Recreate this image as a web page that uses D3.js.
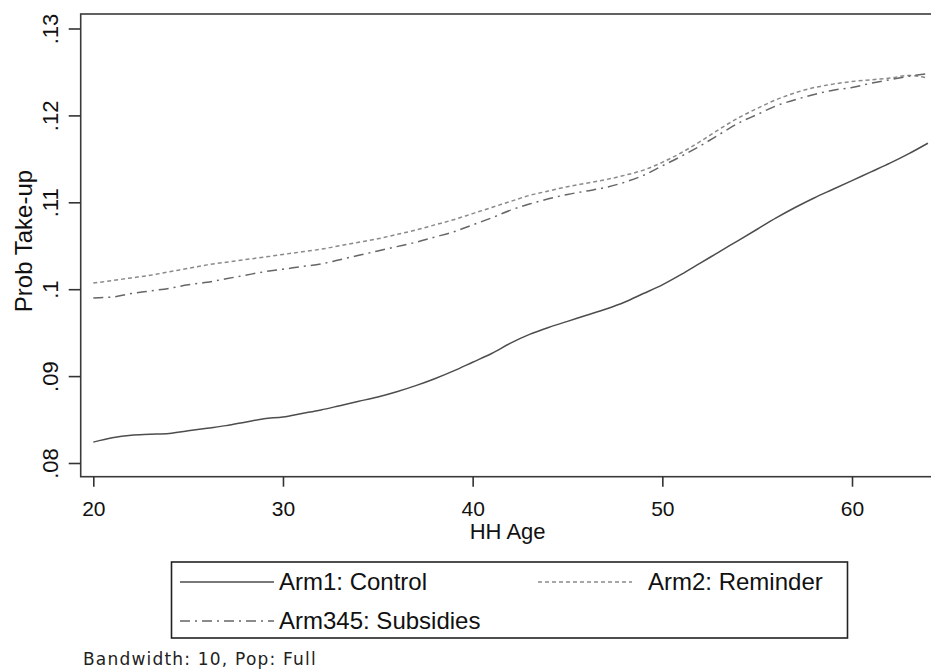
<!DOCTYPE html>
<html>
<head>
<meta charset="utf-8">
<script src="https://cdn.jsdelivr.net/npm/d3@7"></script>
<style>
  body { margin: 0; background: #fff; }
  svg { display: block; font-family: Arial, "Liberation Sans", sans-serif; }
</style>
</head>
<body>
<script>
// values
var ages = [20,21,22,23,24,25,26,27,28,29,30,31,32,33,34,35,36,37,38,39,40,41,42,
  43,44,45,46,47,48,49,50,51,52,53,54,55,56,57,58,59,60,61,62,63,64];

var control = [0.0824,0.0829,0.0832,0.0833,0.0834,0.0837,0.0840,0.0843,0.0847,0.0851,
  0.0853,0.0857,0.0861,0.0866,0.0871,0.0876,0.0882,0.0889,0.0897,0.0906,
  0.0916,0.0926,0.0938,0.0948,0.0956,0.0963,0.0970,0.0977,0.0985,0.0995,
  0.1005,0.1017,0.1030,0.1043,0.1056,0.1069,0.1082,0.1094,0.1105,0.1115,
  0.1125,0.1135,0.1145,0.1156,0.1168];

var reminder = [0.1007,0.1010,0.1013,0.1016,0.1020,0.1024,0.1028,0.1031,0.1034,0.1037,
  0.1040,0.1043,0.1046,0.1050,0.1054,0.1058,0.1063,0.1068,0.1074,0.1080,
  0.1087,0.1094,0.1101,0.1108,0.1113,0.1118,0.1122,0.1126,0.1131,0.1137,
  0.1146,0.1157,0.1170,0.1184,0.1197,0.1208,0.1218,0.1226,0.1232,0.1236,
  0.1239,0.1241,0.1243,0.1246,0.1243];

var subsidies = [0.0990,0.0991,0.0995,0.0998,0.1001,0.1005,0.1008,0.1012,0.1016,0.1020,
  0.1023,0.1026,0.1029,0.1034,0.1039,0.1044,0.1049,0.1054,0.1060,0.1066,
  0.1074,0.1082,0.1091,0.1098,0.1104,0.1109,0.1113,0.1117,0.1123,0.1131,
  0.1142,0.1153,0.1165,0.1178,0.1191,0.1201,0.1211,0.1218,0.1224,0.1229,
  0.1232,0.1237,0.1241,0.1245,0.1248];

var seriesNames = ["Arm1: Control", "Arm2: Reminder", "Arm345: Subsidies"];
var xTicks = [20, 30, 40, 50, 60];
var yTicks = [0.08, 0.09, 0.10, 0.11, 0.12, 0.13];
var yTickLabels = [".08", ".09", ".1", ".11", ".12", ".13"];

var width = 931;
var height = 669;
var plotLeft = 80.7;
var plotTop = 14;
var plotBottom = 476.7;

var svg = d3.select("body")
  .append("svg")
  .attr("width", width)
  .attr("height", height);

var xScale = d3.scaleLinear()
  .domain([20, 60])
  .range([93.3, 852]);

var yScale = d3.scaleLinear()
  .domain([0.08, 0.13])
  .range([463, 28.5]);

// plot frame
svg.append("rect")
  .attr("x", plotLeft)
  .attr("y", plotTop)
  .attr("width", width + 10 - plotLeft)
  .attr("height", plotBottom - plotTop)
  .attr("fill", "none")
  .attr("stroke", "#3a3a3a")
  .attr("stroke-width", 1.6);

var xAxis = d3.axisBottom(xScale)
  .tickValues(xTicks)
  .tickSize(10)
  .tickSizeOuter(0);

var gx = svg.append("g")
  .attr("transform", "translate(0," + plotBottom + ")")
  .call(xAxis);
gx.select(".domain").remove();
gx.selectAll("line").attr("stroke", "#333").attr("stroke-width", 1.6);
gx.selectAll("text")
  .attr("dy", 0)
  .attr("y", 39)
  .attr("fill", "#111")
  .style("font-size", "21px")
  .style("font-family", "Arial, 'Liberation Sans', sans-serif");

var yAxis = d3.axisLeft(yScale)
  .tickValues(yTicks)
  .tickFormat((d, i) => yTickLabels[i])
  .tickSize(12)
  .tickSizeOuter(0);

var gy = svg.append("g")
  .attr("transform", "translate(" + plotLeft + ",0)")
  .call(yAxis);
gy.select(".domain").remove();
gy.selectAll("line").attr("stroke", "#333").attr("stroke-width", 1.6);
gy.selectAll("text")
  .attr("transform", "rotate(-90)")
  .attr("text-anchor", "middle")
  .attr("x", 0)
  .attr("y", -22.7)
  .attr("dy", 0)
  .attr("fill", "#111")
  .style("font-size", "22px")
  .style("font-family", "Arial, 'Liberation Sans', sans-serif");

// axis titles
svg.append("text")
  .attr("x", xScale(40) + 35)
  .attr("y", 539)
  .attr("text-anchor", "middle")
  .attr("fill", "#111")
  .style("font-size", "22px")
  .text("HH Age");

svg.append("text")
  .attr("transform", "translate(32,241) rotate(-90)")
  .attr("text-anchor", "middle")
  .attr("fill", "#111")
  .style("font-size", "24px")
  .text("Prob Take-up");

// curves
var dashes = [null, "4,3", "10,5,2,5"];
var colors = ["#4d4d4d", "#8a8a8a", "#666"];
var allSeries = [control, reminder, subsidies];

var line = d3.line()
  .x((d, i) => xScale(ages[i]))
  .y(d => yScale(d))
  .curve(d3.curveMonotoneX);

svg.append("g")
  .selectAll("path")
  .data(allSeries)
  .enter()
  .append("path")
  .attr("d", d => line(d))
  .attr("fill", "none")
  .attr("stroke", (d, i) => colors[i])
  .attr("stroke-width", 1.5)
  .attr("stroke-dasharray", (d, i) => dashes[i]);

// legend
var legend = svg.append("g");
legend.append("rect")
  .attr("x", 171.5)
  .attr("y", 562)
  .attr("width", 676)
  .attr("height", 76)
  .attr("fill", "#fff")
  .attr("stroke", "#222")
  .attr("stroke-width", 1.6);

var legendPos = [[180, 582], [538, 582], [180, 621]];

var items = legend.selectAll(".item")
  .data(seriesNames)
  .enter()
  .append("g")
  .attr("class", "item")
  .attr("transform", (d, i) => "translate(" + legendPos[i][0] + "," + legendPos[i][1] + ")");

items.append("line")
  .attr("x1", 0)
  .attr("x2", 94)
  .attr("y1", 0)
  .attr("y2", 0)
  .attr("stroke", (d, i) => colors[i])
  .attr("stroke-width", 1.5)
  .attr("stroke-dasharray", (d, i) => dashes[i]);

items.append("text")
  .attr("x", (d, i) => i == 1 ? 110 : 99)
  .attr("y", 8)
  .attr("fill", "#111")
  .style("font-size", "24px")
  .text(d => d);

svg.append("text")
  .attr("x", 83)
  .attr("y", 665)
  .attr("fill", "#222")
  .style("font-family", "'DejaVu Sans', Verdana, sans-serif")
  .style("font-size", "17px")
  .style("letter-spacing", "1.2px")
  .text("Bandwidth: 10, Pop: Full");
</script>
</body>
</html>
